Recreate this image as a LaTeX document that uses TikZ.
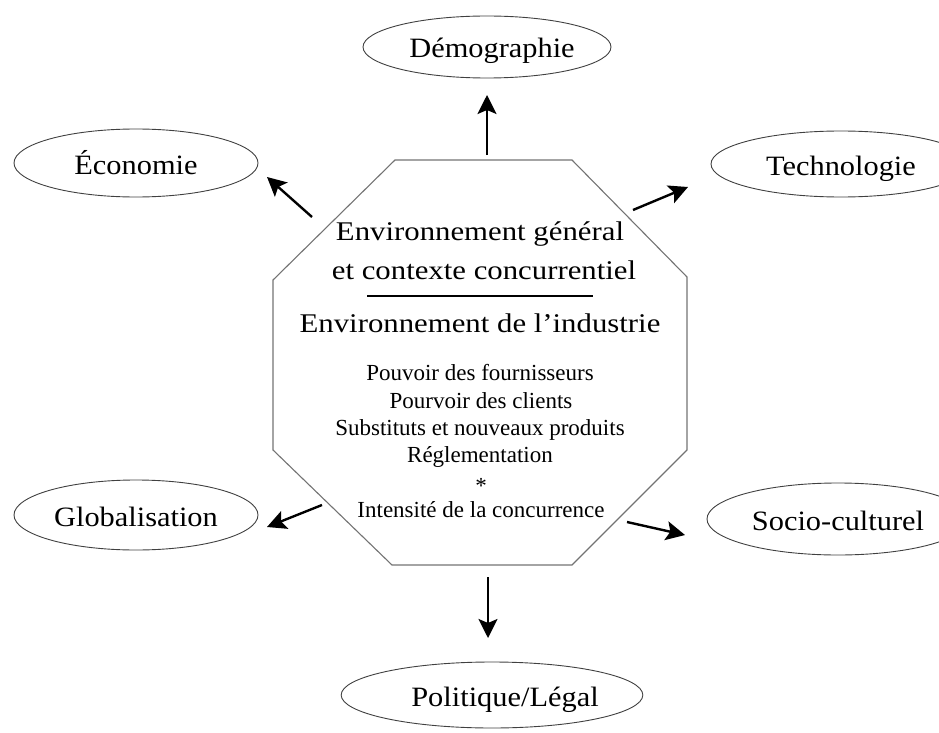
\documentclass[tikz,border=0pt]{standalone}
\usepackage{fontspec}
\setmainfont{Liberation Serif}
\newfontfamily\headserif[FakeStretch=1.14]{Liberation Serif}
\newfontfamily\bubbleserif[FakeStretch=1.085]{Liberation Serif}
\usetikzlibrary{shapes.geometric,arrows.meta}

\begin{document}
\begin{tikzpicture}[x=1pt,y=-1pt,
  bubble/.style={ellipse, draw=black!75, line width=0.9pt, inner sep=0pt,
    font=\bubbleserif\fontsize{28}{30}\selectfont, text height=22pt, text depth=0pt},
  headline/.style={anchor=base, inner sep=0pt, font=\headserif\fontsize{27}{30}\selectfont},
  factor/.style={anchor=base, inner sep=0pt, font=\fontsize{23}{26}\selectfont},
  push/.style={line width=2.4pt, -{Stealth[length=19pt,width=19pt,inset=4pt]}},
  frame/.style={draw=black!55, line width=1.1pt}]

\useasboundingbox (0,0) rectangle (939,733);
\clip (0,0) rectangle (939,733);

% central octagon
\draw[frame] (395,160) -- (572,160) -- (687,277) -- (687,450) -- (572,565)
  -- (392,565) -- (273,450) -- (273,280) -- cycle;

% general environment heading
\node[headline] (gen1) at (480,240) {Environnement général};
\node[headline] (gen2) at (484,279) {et contexte concurrentiel};
\coordinate (ruleL) at (367,296);
\coordinate (ruleR) at (593,296);
\draw[line width=1.3pt] (ruleL) -- (ruleR);
\node[headline] (ind) at (480,332) {Environnement de l’industrie};

% industry forces
\node[factor] (f1) at (480,380) {Pouvoir des fournisseurs};
\node[factor] (f2) at (481,408) {Pourvoir des clients};
\node[factor] (f3) at (480,435) {Substituts et nouveaux produits};
\node[factor] (f4) at (480,462) {Réglementation};
\node[factor] (f5) at (481,493) {*};
\node[factor] (f6) at (481,517) {Intensité de la concurrence};

% surrounding factors
\node[bubble, minimum width=242pt, minimum height=62pt] (demo) at (487,47) {\hspace*{10pt}Démographie};
\node[bubble, minimum width=244pt, minimum height=68pt] (eco) at (136,163) {Économie};
\node[bubble, minimum width=260pt, minimum height=66pt] (tech) at (841,164) {Technologie};
\node[bubble, minimum width=244pt, minimum height=70pt] (glob) at (136,515) {Globalisation};
\node[bubble, minimum width=262pt, minimum height=72pt] (socio) at (838,519) {Socio-culturel};
\node[bubble, minimum width=250pt, minimum height=66pt] (pol) at (492,695) {\hspace*{26pt}Politique/Légal};

% arrow ends
\coordinate (aUp0) at (487,155);   \coordinate (aUp1) at (487,95);
\coordinate (aEco0) at (312,217);  \coordinate (aEco1) at (267,177);
\coordinate (aTech0) at (633,210); \coordinate (aTech1) at (688,187);
\coordinate (aGlob0) at (322,505); \coordinate (aGlob1) at (267,527);
\coordinate (aSoc0) at (627,522);  \coordinate (aSoc1) at (685,535);
\coordinate (aDown0) at (488,577); \coordinate (aDown1) at (488,638);

\draw[push] (aUp0) -- (aUp1);
\draw[push] (aEco0) -- (aEco1);
\draw[push] (aTech0) -- (aTech1);
\draw[push] (aGlob0) -- (aGlob1);
\draw[push] (aSoc0) -- (aSoc1);
\draw[push] (aDown0) -- (aDown1);
\end{tikzpicture}
\end{document}
